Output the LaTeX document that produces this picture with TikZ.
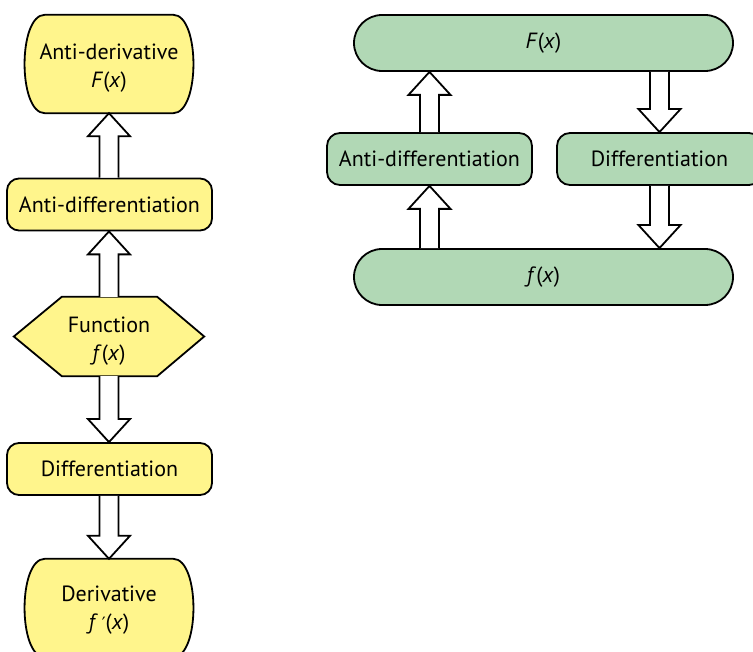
\documentclass[tikz,border=0pt]{standalone}
\usepackage{fontspec}
\setmainfont{PT Sans}
\newfontfamily\dvfont{DejaVu Sans}
\usetikzlibrary{calc,backgrounds}
\definecolor{yel}{RGB}{255,245,140}
\definecolor{grn}{RGB}{177,216,181}
\tikzset{
  x=1pt,y=-1pt,
  lbl/.style={inner sep=0pt,align=center,font=\fontsize{22}{28}\selectfont},
  ybox/.style={fill=yel,draw=black,line width=1.8pt},
  gbox/.style={fill=grn,draw=black,line width=1.8pt},
  blk/.style={fill=white,draw=black,line width=1.8pt,line join=miter},
}
\newcommand{\uparr}[2]{%
  \draw[blk] ($(#1)+(-9.5,0)$) -- ($(#2)+(-9.5,23)$) -- ($(#2)+(-21,23)$) -- (#2) -- ($(#2)+(21,23)$) -- ($(#2)+(9.5,23)$) -- ($(#1)+(9.5,0)$);}
\newcommand{\dnarr}[2]{%
  \draw[blk] ($(#1)+(-9.5,0)$) -- ($(#2)+(-9.5,-23)$) -- ($(#2)+(-21,-23)$) -- (#2) -- ($(#2)+(21,-23)$) -- ($(#2)+(9.5,-23)$) -- ($(#1)+(9.5,0)$);}
\begin{document}
\begin{tikzpicture}
\useasboundingbox (0,0) rectangle (753,652);
% ---------- left column ----------
\node[minimum width=168,minimum height=98,inner sep=0pt] (ad) at (109,64) {};
\node[lbl] (adt) at ($(ad)+(0,4)$) {Anti-derivative\\\textit{F}(\textit{x})};
\node[lbl,minimum width=205,minimum height=52,ybox,rounded corners=12] (adiff) at (109.5,204.5) {Anti-differentiation};
\node[minimum width=190,minimum height=79,inner sep=0pt] (fn) at (109,336.5) {};
\node[lbl] (fnt) at ($(fn)+(0,5)$) {Function\\\textit{f}(\textit{x})};
\node[lbl,minimum width=205,minimum height=52,ybox,rounded corners=12] (diff) at (109.5,469) {Differentiation};
\node[minimum width=168,minimum height=98,inner sep=0pt] (der) at (109,608) {};
\node[lbl] (dert) at ($(der)+(0,2)$) {Derivative\\\textit{f}\,{\dvfont\fontsize{17}{28}\selectfont ′}(\textit{x})};
\begin{pgfonlayer}{background}
  \foreach \b in {ad,der}{
  \draw[ybox] ($(\b.north west)+(20,0)$) -- ($(\b.north east)+(-20,0)$)
     .. controls ($(\b.north east)+(7,0)$) and ($(\b.south east)+(7,0)$) .. ($(\b.south east)+(-20,0)$)
     -- ($(\b.south west)+(20,0)$)
     .. controls ($(\b.south west)+(-7,0)$) and ($(\b.north west)+(-7,0)$) .. ($(\b.north west)+(20,0)$) -- cycle;}
  \draw[ybox,line join=miter] (fn.west) -- ($(fn.north west)+(48,0)$) -- ($(fn.north east)+(-47,0)$) -- (fn.east)
     -- ($(fn.south east)+(-47,0)$) -- ($(fn.south west)+(48,0)$) -- cycle;
\end{pgfonlayer}
\uparr{adiff.north -| ad.south}{ad.south}
\uparr{fn.north}{fn.north |- adiff.south}
\dnarr{fn.south}{fn.south |- diff.north}
\dnarr{fn.south |- diff.south}{der.north}
% ---------- right diagram ----------
\node[lbl,gbox,minimum width=379,minimum height=56,rounded corners=28] (F) at (543.5,43) {\textit{F}(\textit{x})};
\node[lbl,gbox,minimum width=379,minimum height=56,rounded corners=28] (f) at (543.5,277) {\textit{f}(\textit{x})};
\node[lbl,gbox,minimum width=205,minimum height=52,rounded corners=13] (ga) at (429.5,159) {Anti-differentiation};
\node[lbl,gbox,minimum width=205,minimum height=52,rounded corners=13] (gd) at (659.5,159) {Differentiation};
\uparr{ga.north}{ga.north |- F.south}
\uparr{ga.south |- f.north}{ga.south}
\dnarr{gd.north |- F.south}{gd.north}
\dnarr{gd.south}{gd.south |- f.north}
\end{tikzpicture}
\end{document}
